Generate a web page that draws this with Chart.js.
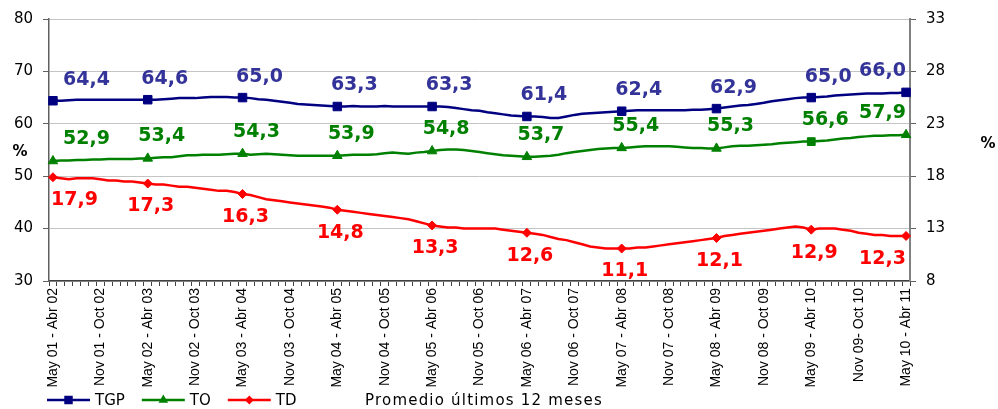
<!DOCTYPE html>
<html>
<head>
<meta charset="utf-8">
<script src="https://cdn.jsdelivr.net/npm/chart.js@4.4.1/dist/chart.umd.min.js"></script>
<style>
  html, body { margin: 0; padding: 0; background: #ffffff; }
  #wrap { width: 998px; height: 409px; }
</style>
</head>
<body>
<div id="wrap"><canvas id="chart" width="998" height="409"></canvas></div>
<script>
// Rolling 12-month periods (monthly), May 2001-Apr 2002 to May 2010-Apr 2011
const categories = [
  "May 01 - Abr 02","Jun 01 - May 02","Jul 01 - Jun 02","Ago 01 - Jul 02","Sep 01 - Ago 02","Oct 01 - Sep 02",
  "Nov 01 - Oct 02","Dic 01 - Nov 02","Ene 02 - Dic 02","Feb 02 - Ene 03","Mar 02 - Feb 03","Abr 02 - Mar 03",
  "May 02 - Abr 03","Jun 02 - May 03","Jul 02 - Jun 03","Ago 02 - Jul 03","Sep 02 - Ago 03","Oct 02 - Sep 03",
  "Nov 02 - Oct 03","Dic 02 - Nov 03","Ene 03 - Dic 03","Feb 03 - Ene 04","Mar 03 - Feb 04","Abr 03 - Mar 04",
  "May 03 - Abr 04","Jun 03 - May 04","Jul 03 - Jun 04","Ago 03 - Jul 04","Sep 03 - Ago 04","Oct 03 - Sep 04",
  "Nov 03 - Oct 04","Dic 03 - Nov 04","Ene 04 - Dic 04","Feb 04 - Ene 05","Mar 04 - Feb 05","Abr 04 - Mar 05",
  "May 04 - Abr 05","Jun 04 - May 05","Jul 04 - Jun 05","Ago 04 - Jul 05","Sep 04 - Ago 05","Oct 04 - Sep 05",
  "Nov 04 - Oct 05","Dic 04 - Nov 05","Ene 05 - Dic 05","Feb 05 - Ene 06","Mar 05 - Feb 06","Abr 05 - Mar 06",
  "May 05 - Abr 06","Jun 05 - May 06","Jul 05 - Jun 06","Ago 05 - Jul 06","Sep 05 - Ago 06","Oct 05 - Sep 06",
  "Nov 05 - Oct 06","Dic 05 - Nov 06","Ene 06 - Dic 06","Feb 06 - Ene 07","Mar 06 - Feb 07","Abr 06 - Mar 07",
  "May 06 - Abr 07","Jun 06 - May 07","Jul 06 - Jun 07","Ago 06 - Jul 07","Sep 06 - Ago 07","Oct 06 - Sep 07",
  "Nov 06 - Oct 07","Dic 06 - Nov 07","Ene 07 - Dic 07","Feb 07 - Ene 08","Mar 07 - Feb 08","Abr 07 - Mar 08",
  "May 07 - Abr 08","Jun 07 - May 08","Jul 07 - Jun 08","Ago 07 - Jul 08","Sep 07 - Ago 08","Oct 07 - Sep 08",
  "Nov 07 - Oct 08","Dic 07 - Nov 08","Ene 08 - Dic 08","Feb 08 - Ene 09","Mar 08 - Feb 09","Abr 08 - Mar 09",
  "May 08 - Abr 09","Jun 08 - May 09","Jul 08 - Jun 09","Ago 08 - Jul 09","Sep 08 - Ago 09","Oct 08 - Sep 09",
  "Nov 08 - Oct 09","Dic 08 - Nov 09","Ene 09 - Dic 09","Feb 09 - Ene 10","Mar 09 - Feb 10","Abr 09 - Mar 10",
  "May 09 - Abr 10","Jun 09 - May 10","Jul 09 - Jun 10","Ago 09 - Jul 10","Sep 09 - Ago 10","Oct 09 - Sep 10",
  "Nov 09- Oct 10","Dic 09 - Nov 10","Ene 10 - Dic 10","Feb 10 - Ene 11","Mar 10 - Feb 11","Abr 10 - Mar 11",
  "May 10 - Abr 11"
];

// Tasa global de participación (%), left axis
const tgp = [
  64.4,64.4,64.5,64.6,64.6,64.6,64.6,64.6,64.6,64.6,64.6,64.6,
  64.6,64.6,64.7,64.8,64.9,64.9,64.9,65.0,65.1,65.1,65.1,65.0,
  65.0,64.9,64.7,64.6,64.4,64.2,64.0,63.8,63.7,63.6,63.5,63.4,
  63.3,63.3,63.4,63.3,63.3,63.3,63.4,63.3,63.3,63.3,63.3,63.3,
  63.3,63.3,63.2,63.0,62.8,62.6,62.5,62.2,62.0,61.8,61.6,61.5,
  61.4,61.4,61.3,61.1,61.1,61.4,61.7,61.9,62.0,62.1,62.2,62.3,
  62.4,62.5,62.6,62.6,62.6,62.6,62.6,62.6,62.6,62.7,62.7,62.8,
  62.9,63.1,63.3,63.5,63.6,63.8,64.0,64.3,64.5,64.7,64.9,65.0,
  65.0,65.1,65.2,65.4,65.5,65.6,65.7,65.8,65.8,65.8,65.9,65.9,
  66.0
];

// Tasa de ocupación (%), left axis
const to = [
  52.9,53.0,53.0,53.1,53.1,53.2,53.2,53.3,53.3,53.3,53.3,53.4,
  53.4,53.5,53.6,53.6,53.8,54.0,54.0,54.1,54.1,54.1,54.2,54.3,
  54.3,54.1,54.2,54.3,54.2,54.1,54.0,53.9,53.9,53.9,53.9,53.9,
  53.9,54.0,54.1,54.1,54.1,54.2,54.4,54.5,54.4,54.3,54.5,54.6,
  54.8,55.0,55.1,55.1,55.0,54.8,54.6,54.4,54.2,54.0,53.9,53.8,
  53.7,53.7,53.8,53.9,54.1,54.4,54.6,54.8,55.0,55.2,55.3,55.4,
  55.4,55.5,55.6,55.7,55.7,55.7,55.7,55.6,55.5,55.4,55.4,55.3,
  55.3,55.5,55.7,55.8,55.8,55.9,56.0,56.1,56.3,56.4,56.5,56.6,
  56.6,56.7,56.8,57.0,57.2,57.3,57.5,57.6,57.7,57.7,57.8,57.8,
  57.9
];

// Tasa de desempleo (%), right axis
const td = [
  17.9,17.8,17.7,17.8,17.8,17.8,17.7,17.6,17.6,17.5,17.5,17.4,
  17.3,17.2,17.2,17.1,17.0,17.0,16.9,16.8,16.7,16.6,16.6,16.5,
  16.3,16.2,16.0,15.8,15.7,15.6,15.5,15.4,15.3,15.2,15.1,15.0,
  14.8,14.7,14.6,14.5,14.4,14.3,14.2,14.1,14.0,13.9,13.7,13.5,
  13.3,13.2,13.1,13.1,13.0,13.0,13.0,13.0,13.0,12.9,12.8,12.7,
  12.6,12.5,12.4,12.2,12.0,11.9,11.7,11.5,11.3,11.2,11.1,11.1,
  11.1,11.1,11.2,11.2,11.3,11.4,11.5,11.6,11.7,11.8,11.9,12.0,
  12.1,12.3,12.4,12.5,12.6,12.7,12.8,12.9,13.0,13.1,13.2,13.1,
  12.9,13.0,13.0,13.0,12.9,12.8,12.6,12.5,12.4,12.4,12.3,12.3,
  12.3
];

const seriesNames = ["TGP", "TO", "TD"];
const footnote = "Promedio últimos 12 meses";
const axisUnit = "%";

// Markers and value labels appear once a year (every 12th period)
const markEvery = 12;

const styles = [
  { color: "#000080", text: "#333399", point: "rect",     radius: 6,   dx: 17, dy: -21, minLeft: 14 },
  { color: "#008000", text: "#008000", point: "triangle", radius: 5.5, dx: 14, dy: -22, minLeft: 14 },
  { color: "#FF0000", text: "#FF0000", point: "rectRot",  radius: 4.5, dx: 3,  dy: 23,  minLeft: 2 }
];

const fmt = v => v.toFixed(1).replace(".", ",");

function makeDataset(i, data, axis) {
  const s = styles[i];
  return {
    label: seriesNames[i],
    data: data,
    yAxisID: axis,
    borderColor: s.color,
    backgroundColor: s.color,
    borderWidth: 2.5,
    tension: 0,
    pointStyle: ctx => (i === 1 && ctx.dataIndex === 96) ? "rect" : s.point,
    pointRadius: ctx => ctx.dataIndex % markEvery === 0 ? s.radius : 0,
    pointBorderWidth: 1,
    pointBorderColor: s.color,
    pointBackgroundColor: s.color
  };
}

// Value labels next to the yearly markers
const valueLabels = {
  id: "valueLabels",
  afterDatasetsDraw(chart) {
    const ctx = chart.ctx;
    const area = chart.chartArea;
    ctx.save();
    ctx.font = 'bold 19px "DejaVu Sans"';
    ctx.textAlign = "center";
    ctx.textBaseline = "middle";
    chart.data.datasets.forEach((ds, di) => {
      const s = styles[di];
      const meta = chart.getDatasetMeta(di);
      meta.data.forEach((pt, idx) => {
        if (idx % markEvery !== 0) return;
        const txt = fmt(ds.data[idx]);
        const w = ctx.measureText(txt).width;
        let cx = pt.x + s.dx;
        if (cx - w / 2 < area.left + s.minLeft) cx = area.left + s.minLeft + w / 2;
        if (cx + w / 2 > area.right - 4) cx = area.right - 4 - w / 2;
        ctx.fillStyle = s.text;
        ctx.fillText(txt, cx, pt.y + s.dy);
      });
    });
    ctx.restore();
  }
};

function drawMarker(ctx, kind, x, y, r, color) {
  ctx.fillStyle = color;
  ctx.beginPath();
  if (kind === "rect") {
    const h = r * Math.SQRT1_2;
    ctx.rect(x - h, y - h, 2 * h, 2 * h);
  } else if (kind === "triangle") {
    ctx.moveTo(x, y - r);
    ctx.lineTo(x + r * 0.866, y + r * 0.5);
    ctx.lineTo(x - r * 0.866, y + r * 0.5);
    ctx.closePath();
  } else {
    ctx.moveTo(x, y - r);
    ctx.lineTo(x + r, y);
    ctx.lineTo(x, y + r);
    ctx.lineTo(x - r, y);
    ctx.closePath();
  }
  ctx.fill();
}

// Unit captions, legend row and footnote
const decorations = {
  id: "decorations",
  afterDraw(chart) {
    const ctx = chart.ctx;
    const area = chart.chartArea;
    ctx.save();
    ctx.fillStyle = "#000";
    ctx.font = 'bold 15px "DejaVu Sans"';
    ctx.textAlign = "center";
    ctx.textBaseline = "middle";
    ctx.fillText(axisUnit, 20, 152);
    ctx.fillText(axisUnit, 988, 144);

    const y = 400;
    let x = 47;
    ctx.font = '15px "DejaVu Sans"';
    ctx.textAlign = "left";
    styles.forEach((s, i) => {
      ctx.strokeStyle = s.color;
      ctx.lineWidth = 2.5;
      ctx.beginPath();
      ctx.moveTo(x, y);
      ctx.lineTo(x + 43, y);
      ctx.stroke();
      drawMarker(ctx, s.point, x + 21.5, y, s.radius, s.color);
      ctx.fillStyle = "#000";
      ctx.fillText(seriesNames[i], x + 48, y + 1);
      x += 48 + ctx.measureText(seriesNames[i]).width + 17;
    });
    ctx.letterSpacing = "1.2px";
    ctx.fillText(footnote, 365, y + 1);
    ctx.restore();
  }
};

new Chart(document.getElementById("chart"), {
  type: "line",
  data: {
    labels: categories,
    datasets: [
      makeDataset(0, tgp, "y"),
      makeDataset(1, to, "y"),
      makeDataset(2, td, "y2")
    ]
  },
  options: {
    responsive: false,
    animation: false,
    events: [],
    layout: { padding: { top: 16, bottom: 20, left: 0, right: 0 } },
    plugins: { legend: { display: false }, tooltip: { enabled: false } },
    scales: {
      x: {
        type: "category",
        offset: true,
        grid: { offset: true, drawOnChartArea: false, tickLength: 5, color: "#404040", lineWidth: 1 },
        border: { color: "#404040", width: 1.5 },
        ticks: {
          autoSkip: false,
          minRotation: 90,
          maxRotation: 90,
          padding: 2,
          color: "#000",
          font: { family: "Liberation Sans", size: 14 },
          callback: (v, i) => i % 6 === 0 ? categories[i] : ""
        },
        afterFit(s) { s.height = 108; }
      },
      y: {
        position: "left",
        min: 30,
        max: 80,
        ticks: { stepSize: 10, color: "#000", padding: 10, font: { family: "DejaVu Sans", size: 15 } },
        grid: { color: "#C4C4C4", lineWidth: 1, tickLength: 6, tickColor: "#606060" },
        border: { color: "#606060", width: 1.5 },
        afterFit(s) { s.width = 49; }
      },
      y2: {
        position: "right",
        min: 8,
        max: 33,
        ticks: { stepSize: 5, color: "#000", padding: 10, font: { family: "DejaVu Sans", size: 15 } },
        grid: { drawOnChartArea: false, tickLength: 6, tickColor: "#606060" },
        border: { color: "#808080", width: 2 },
        afterFit(s) { s.width = 88; }
      }
    }
  },
  plugins: [valueLabels, decorations]
});
</script>
</body>
</html>
